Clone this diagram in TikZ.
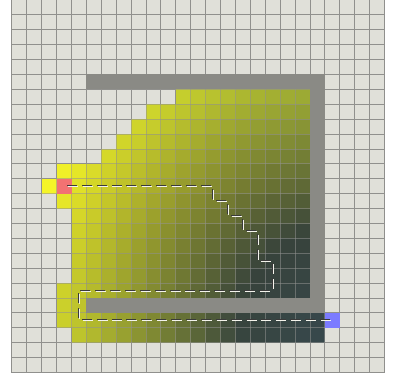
\documentclass[tikz,border=0pt]{standalone}
\usepackage{tikz}
\definecolor{bgc}{HTML}{E0E0D9}
\definecolor{linec}{HTML}{8F8F8A}
\definecolor{overc}{HTML}{929290}
\definecolor{wallc}{HTML}{8A8A85}
\definecolor{startc}{HTML}{F27272}
\definecolor{goalc}{HTML}{7B7BFF}
\definecolor{dashdark}{HTML}{3A3A3A}
\definecolor{dashlight}{HTML}{F4F4EC}
\tikzset{
  gridline/.style={draw=linec, line width=1pt},
  gridover/.style={draw=overc, line width=1pt, opacity=0.55},
  wall/.style={fill=wallc},
  cellnode/.style={minimum width=14.9pt, minimum height=14.9pt, inner sep=0pt, outer sep=0pt, draw=none},
  startcell/.style={cellnode, fill=startc},
  goalcell/.style={cellnode, fill=goalc},
  routedash/.style={line width=1pt, dash pattern=on 10pt off 4.9pt, dash phase=11.7pt},
}
\newcommand\cellfill[2]{%
  \pgfmathsetmacro\cellg{abs(#1-3)+abs(#2-12)}%
  \pgfmathsetmacro\cellh{sqrt((#1+0.0-21)*(#1+0.0-21)+(#2+0.0-21)*(#2+0.0-21))}%
  \pgfmathtruncatemacro\cR{max(55,min(250,5.5+11.45*\cellh-\cellg))}%
  \pgfmathtruncatemacro\cG{min(250,\cR+0.65*\cellg)}%
  \pgfmathtruncatemacro\cB{40+1.4*\cellg*(1-\cellh/25)}%
  \definecolor{cellc}{RGB}{\cR,\cG,\cB}%
  \fill[cellc] (#1,#2) rectangle ++(1,1);%
}
\begin{document}
\begin{tikzpicture}[x=14.9pt, y=-14.9pt]
\useasboundingbox (-0.805,0) rectangle (25.705,25.034);
\fill[white] (-0.805,0) rectangle (25.705,25.034);
\fill[bgc] (0,0) rectangle (25,25);
% base grid
\foreach \k in {0,...,25} {
  \draw[gridline] (\k,0) -- (\k,25);
  \draw[gridline] (0,\k) -- (25,\k);
}
% explored cells
\foreach \rw/\ca/\cb in {6/11/19, 7/9/19, 8/8/19, 9/7/19, 10/6/19, 11/3/19, 12/2/19, 13/3/19, 14/4/19, 15/4/19, 16/4/19, 17/4/19, 18/4/19, 19/3/19, 20/3/4, 21/3/20, 22/4/20} {
  \foreach \cc in {\ca,...,\cb} {
    \cellfill{\cc}{\rw}
  }
}
% grid overlay
\foreach \k in {0,...,25} {
  \draw[gridover] (\k,0) -- (\k,25);
  \draw[gridover] (0,\k) -- (25,\k);
}
% walls
\fill[wall] (5,5) rectangle (21,6);
\fill[wall] (20,5) rectangle (21,21);
\fill[wall] (5,20) rectangle (21,21);
% start and goal
\node[startcell] (start) at (3.5,12.5) {};
\node[goalcell] (goal) at (21.5,21.5) {};
% route
\foreach \col/\sx/\sy in {dashdark/-0.45pt/0.55pt, dashlight/0.4pt/-0.45pt} {
  \draw[routedash, draw=\col, transform canvas={shift={(\sx,\sy)}}]
    (start.center) -- (13.5,12.5) -- (13.5,13.5) -- (14.5,13.5) -- (14.5,14.5)
    -- (15.5,14.5) -- (15.5,15.5) -- (16.5,15.5) -- (16.5,17.5) -- (17.5,17.5)
    -- (17.5,19.5) -- (4.5,19.5) -- (4.5,21.5) -- (goal.center);
}
\end{tikzpicture}
\end{document}
